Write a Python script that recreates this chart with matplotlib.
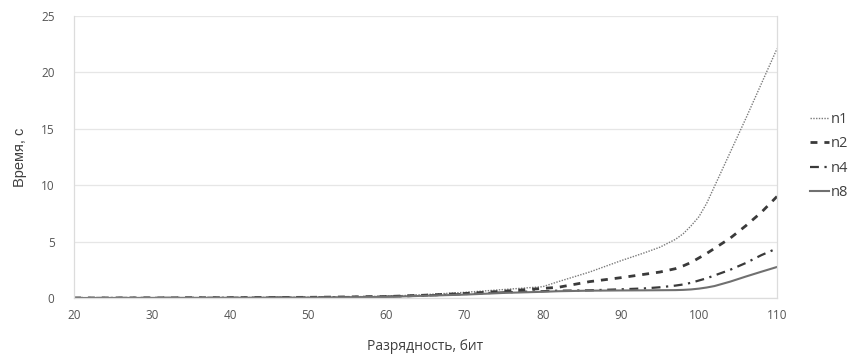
import matplotlib
matplotlib.use("Agg")
import matplotlib.pyplot as plt

bits = [20, 30, 40, 50, 60, 65, 70, 75, 80, 82, 86, 90, 93, 95, 97, 98, 99, 100, 101, 102, 104, 106, 108, 110]
n1 = [0.0, 0.01, 0.03, 0.07, 0.15, 0.3, 0.5, 0.75, 1.0, 1.45, 2.3, 3.3, 4.0, 4.5, 5.2, 5.7, 6.4, 7.2, 8.4, 9.9, 12.9, 15.9, 19.0, 22.1]
n2 = [0.0, 0.01, 0.03, 0.06, 0.13, 0.25, 0.4, 0.6, 0.85, 0.95, 1.45, 1.8, 2.1, 2.3, 2.6, 2.85, 3.15, 3.55, 3.95, 4.4, 5.3, 6.4, 7.6, 9.0]
n4 = [0.0, 0.01, 0.02, 0.05, 0.12, 0.22, 0.35, 0.5, 0.6, 0.65, 0.68, 0.77, 0.85, 0.95, 1.1, 1.2, 1.35, 1.55, 1.75, 2.0, 2.5, 3.1, 3.8, 4.4]
n8 = [0.0, 0.01, 0.02, 0.04, 0.1, 0.2, 0.3, 0.45, 0.55, 0.6, 0.65, 0.67, 0.68, 0.69, 0.7, 0.72, 0.76, 0.83, 0.93, 1.06, 1.45, 1.9, 2.33, 2.75]
labels = ["n1", "n2", "n4", "n8"]
xticks = [20, 30, 40, 50, 60, 70, 80, 90, 100, 110]
yticks = [0, 5, 10, 15, 20, 25]

plt.rcParams['font.family'] = ['Open Sans', 'DejaVu Sans']

fig = plt.figure(figsize=(8.52, 3.54), dpi=100)
ax = fig.add_axes([74/852, 1-298/354, (777-74)/852, (298-16)/354])

ax.plot(bits, n1, color='#7a7a7a', lw=1.0, linestyle=(0, (1, 1)), label=labels[0])
ax.plot(bits, n2, color='#3a3a3a', lw=2.0, linestyle=(0, (2.5, 2.5)), label=labels[1])
ax.plot(bits, n4, color='#3a3a3a', lw=1.6, linestyle=(0, (4, 2.5, 1, 2.5)), label=labels[2])
ax.plot(bits, n8, color='#707070', lw=1.5, linestyle='-', label=labels[3])

ax.set_xlim(20, 110)
ax.set_ylim(0, 25)
ax.set_xticks(xticks)
ax.set_yticks(yticks)
ax.yaxis.grid(True, color='#e6e6e6', lw=0.9)
ax.set_axisbelow(True)
ax.spines['top'].set_visible(False)
for s in ['left', 'bottom', 'right']:
    ax.spines[s].set_color('#dcdcdc')
    ax.spines[s].set_linewidth(0.9)
ax.tick_params(length=0, labelsize=8.5, colors='#555555', pad=8)
ax.tick_params(axis='y', pad=14)

ax.set_xlabel("Разрядность, бит", fontsize=10, color='#404040', labelpad=12)
ax.set_ylabel("Время, с", fontsize=10.5, color='#404040', labelpad=10,
              family=['Liberation Sans Narrow', 'Liberation Sans', 'DejaVu Sans'])

fig.legend(loc='upper left', bbox_to_anchor=(810/852, 1-112/354), frameon=False,
           fontsize=10.5, handlelength=1.3, handletextpad=0.15, labelspacing=0.65,
           labelcolor='#404040', borderaxespad=0, borderpad=0)

fig.savefig("out.png", dpi=100)
